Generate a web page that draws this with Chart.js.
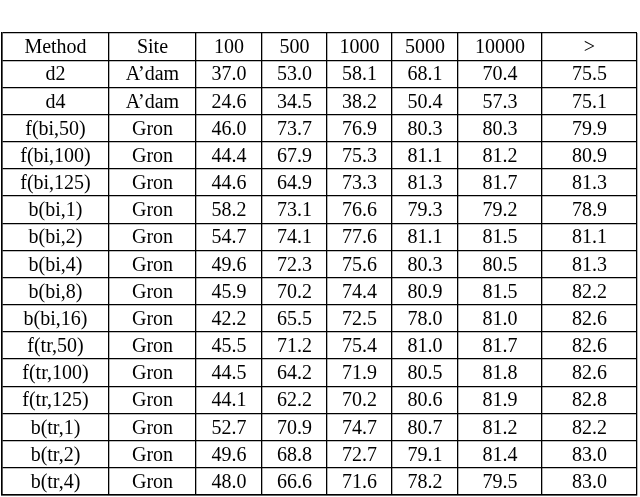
<!DOCTYPE html>
<html><head><meta charset="utf-8">
<script src="https://cdn.jsdelivr.net/npm/chart.js@4"></script>
<style>html,body{margin:0;background:#fff}#wrap{width:640px;height:497px}</style>
</head><body><div id="wrap"><canvas id="c"></canvas></div>
<script>
const columns = ["Method", "Site", "100", "500", "1000", "5000", "10000", ">"];
const methods = ["d2", "d4", "f(bi,50)", "f(bi,100)", "f(bi,125)", "b(bi,1)", "b(bi,2)", "b(bi,4)", "b(bi,8)", "b(bi,16)",
  "f(tr,50)", "f(tr,100)", "f(tr,125)", "b(tr,1)", "b(tr,2)", "b(tr,4)"];
const sites = ["A’dam", "A’dam", "Gron", "Gron", "Gron", "Gron", "Gron", "Gron", "Gron", "Gron",
  "Gron", "Gron", "Gron", "Gron", "Gron", "Gron"];
const v100 = [37.0, 24.6, 46.0, 44.4, 44.6, 58.2, 54.7, 49.6, 45.9, 42.2, 45.5, 44.5, 44.1, 52.7, 49.6, 48.0];
const v500 = [53.0, 34.5, 73.7, 67.9, 64.9, 73.1, 74.1, 72.3, 70.2, 65.5, 71.2, 64.2, 62.2, 70.9, 68.8, 66.6];
const v1000 = [58.1, 38.2, 76.9, 75.3, 73.3, 76.6, 77.6, 75.6, 74.4, 72.5, 75.4, 71.9, 70.2, 74.7, 72.7, 71.6];
const v5000 = [68.1, 50.4, 80.3, 81.1, 81.3, 79.3, 81.1, 80.3, 80.9, 78.0, 81.0, 80.5, 80.6, 80.7, 79.1, 78.2];
const v10000 = [70.4, 57.3, 80.3, 81.2, 81.7, 79.2, 81.5, 80.5, 81.5, 81.0, 81.7, 81.8, 81.9, 81.2, 81.4, 79.5];
const vMore = [75.5, 75.1, 79.9, 80.9, 81.3, 78.9, 81.1, 81.3, 82.2, 82.6, 82.6, 82.6, 82.8, 82.2, 83.0, 83.0];

const colEdges = [0, 107, 194, 260, 325, 390, 456, 540, 635];
const nRows = methods.length + 1;
const cells = [columns].concat(methods.map((m, i) => [m, sites[i],
  v100[i].toFixed(1), v500[i].toFixed(1), v1000[i].toFixed(1), v5000[i].toFixed(1), v10000[i].toFixed(1), vMore[i].toFixed(1)]));

const tableText = {
  id: "tableText",
  afterDraw(chart) {
    const { ctx, scales: { x, y } } = chart;
    ctx.save();
    ctx.fillStyle = "#000";
    ctx.font = "20px 'Liberation Serif', 'DejaVu Serif', serif";
    ctx.textAlign = "center";
    ctx.textBaseline = "middle";
    cells.forEach((row, r) => row.forEach((t, c) => {
      ctx.fillText(t, x.getPixelForValue((colEdges[c] + colEdges[c + 1]) / 2), y.getPixelForValue(r + 0.55));
    }));
    ctx.restore();
  }
};

new Chart(document.getElementById("c"), {
  type: "scatter",
  data: { datasets: [{ data: [] }] },
  plugins: [tableText],
  options: {
    responsive: true, maintainAspectRatio: false, animation: false,
    layout: { padding: { left: 2, top: 33, right: 3, bottom: 2 } },
    plugins: { legend: { display: false }, tooltip: { enabled: false } },
    scales: {
      x: {
        type: "linear", min: 0, max: 635,
        afterBuildTicks: (s) => { s.ticks = colEdges.map(v => ({ value: v })); },
        ticks: { display: false },
        grid: { color: "#000", lineWidth: 1.3, drawTicks: false },
        border: { color: "#000", width: 1.5 }
      },
      y: {
        type: "linear", min: 0, max: nRows, reverse: true,
        afterBuildTicks: (s) => { s.ticks = Array.from({ length: nRows + 1 }, (_, i) => ({ value: i })); },
        ticks: { display: false },
        grid: { color: "#000", lineWidth: 1.3, drawTicks: false },
        border: { color: "#000", width: 1.5 }
      }
    }
  }
});
</script></body></html>
